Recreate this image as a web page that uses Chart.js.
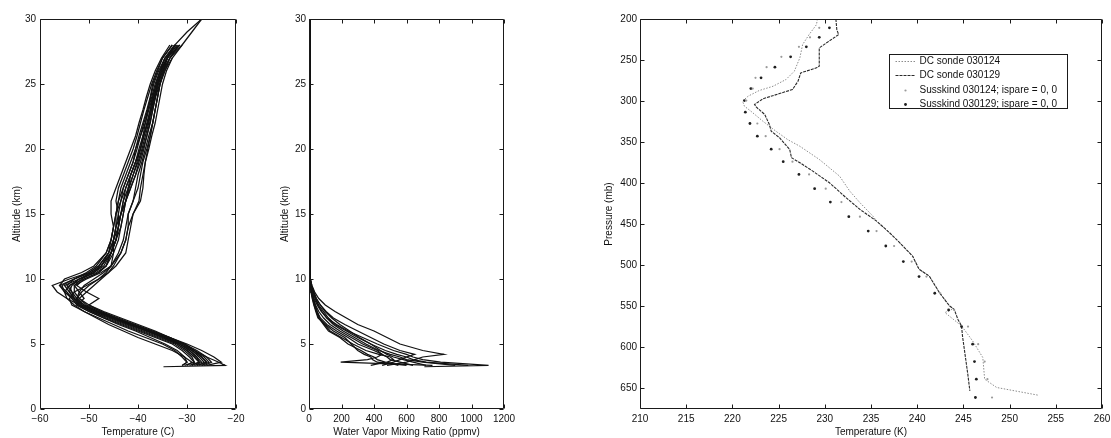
<!DOCTYPE html>
<html><head><meta charset="utf-8">
<script src="https://cdn.jsdelivr.net/npm/chart.js@4.4.1/dist/chart.umd.min.js"></script>
<style>
html,body{margin:0;padding:0;background:#fff;width:1111px;height:438px;overflow:hidden;}
canvas{position:absolute;top:0;}
</style></head><body>
<canvas id="c1" width="250" height="438" style="left:0px"></canvas>
<canvas id="c2" width="260" height="438" style="left:255px"></canvas>
<canvas id="c3" width="531" height="438" style="left:580px"></canvas>
<script>
// ---------- Panel 1: temperature profiles (C) vs altitude (km) ----------
const altLevels = [3.25,3.35,3.6,4.0,4.5,5.0,5.5,6.0,6.5,7.0,7.5,8.0,8.5,9.0,9.5,10.0,10.5,11,12,13,14,15,16,17,18,19,20,21,22,23,24,25,26,27,28,29,30];
const tempP01 = [null,-28,-27.5,-28.5,-30,-32,-35,-38.5,-42,-45.5,-49,-52,-54.5,-56.5,-57.5,-54,-50,-48,-46,-45,-44.5,-44.5,-44,-43.5,-42.5,-41.5,-40.5,-39.5,-38.8,-38,-37.2,-36.5,-35.5,-34.5,-32.5,null,null];
const tempP02 = [null,-26,-23,-24.5,-27,-30,-33.5,-37,-41,-44.5,-48.5,-51.5,-53,-55,-56,-53,-49.5,-47.5,-45.5,-44.5,-44,-43.5,-43,-42,-41.5,-40.5,-39.5,-39,-38,-37.5,-37,-36.2,-35.5,-34,-31.5,null,null];
const tempP03 = [null,-27,-26,-27,-29,-31.5,-35,-38,-41.5,-45,-48.5,-51.5,-53,-54,-55,-52,-48.5,-46.5,-45,-44,-43.5,-43,-42.5,-41.5,-40.5,-39.5,-38.8,-38.2,-37.5,-37,-36.5,-36,-35,-33.5,-31,-29,-27];
const tempP04 = [null,-29,-28.5,-29.5,-31,-33,-36.5,-40,-43.5,-47,-50,-52.5,-51,-52,-53,-50.5,-47.5,-45.5,-44,-43,-42.5,-42,-41,-40,-39.5,-39,-38.2,-37.5,-37,-36.5,-36,-35.5,-34.5,-33.5,-31.5,null,null];
const tempP05 = [null,-30,-29,-30.5,-33,-36.5,-40,-43,-46,-48.5,-51,-53,-54.5,-55,-54,-51,-48,-46.5,-45.5,-45,-44.5,-44,-43.5,-43,-42,-41,-40.5,-39.8,-39,-38.2,-37.5,-37,-36,-35,-33,null,null];
const tempP06 = [null,-28.5,-27,-28,-29.5,-31.5,-34.5,-38,-41.5,-45,-48.5,-51,-52.5,-51.5,-50,-48,-46,-44.5,-42.5,-42,-41.5,-41,-39.5,-39,-38.8,-38.5,-37.8,-37.2,-36.5,-36,-35.5,-35,-34.2,-33,-31,null,null];
const tempP07 = [null,-27.5,-26.5,-27.5,-29,-31,-34,-37.5,-41,-44.5,-47.5,-50,-48,-50.5,-52.5,-51,-48,-46.5,-45.5,-44.5,-44,-44,-44.5,-44,-43,-42,-41,-40.2,-39.5,-38.8,-38,-37.2,-36.2,-35,-33,null,null];
const tempP08 = [null,-31,-30,-30.5,-32,-34.5,-37.5,-40.5,-44,-47,-50,-52.5,-53.5,-54.5,-56,-55,-51.5,-49,-46.5,-45.5,-45,-45.5,-45.5,-44.5,-43.5,-42.5,-41.5,-40.5,-39.8,-39,-38.3,-37.5,-36.5,-35.2,-33.5,null,null];
const tempP09 = [null,-26.5,-25,-26,-28,-30.5,-33.5,-37,-40.5,-44,-47.5,-50.5,-52,-50.5,-49,-47.5,-46,-45,-43.5,-42.5,-42,-42,-41,-40.5,-40,-39.2,-38.5,-37.8,-37,-36.5,-36,-35.5,-34.8,-33.5,-31.8,null,null];
const tempP10 = [null,-27,-25.5,-26.5,-28.5,-31,-34.5,-38,-42,-45.5,-49,-52,-53.5,-55,-55.5,-53,-50,-48,-46,-45.5,-45,-44.5,-43.5,-42.5,-41.5,-40.5,-39.5,-38.8,-38,-37.2,-36.5,-35.8,-35,-34,-32.5,-30,-27];
const tempP11 = [null,-30.5,-28.5,-29,-30.5,-32.5,-36,-39.5,-43,-46.5,-49.5,-52,-53,-53.5,-54.5,-53,-50.5,-48.5,-46.5,-45.5,-45,-44.5,-44,-43,-42,-41,-40.2,-39.5,-38.5,-37.8,-37,-36.3,-35.5,-34.5,null,null,null];
const tempP12 = [null,-28,-26,-27,-28.5,-30.5,-33.5,-36.5,-40,-43.5,-47,-50,-52,-53,-53,-51.5,-49,-47.5,-46,-45,-44,-43.5,-42.5,-41.8,-41,-40.2,-39.5,-38.8,-38.2,-37.5,-36.8,-36,-35.2,-34,-32,null,null];
const tempP13 = [null,-29.5,-27.5,-28.5,-30,-32,-35.5,-39,-42.5,-46,-49.5,-52,-52.5,-52,-51,-49,-47,-45.5,-43.5,-42.5,-42,-41,-39.8,-39.5,-39,-38.5,-38,-37.5,-37,-36.5,-36,-35.5,-34.8,-34,-32.3,null,null];
const tempP14 = [-34.8,-22.2,-23.5,-26,-28.5,-30.5,-34,-37.5,-41,-44.5,-48,-51,-52.5,-53.5,-54,-52,-49,-47,-45.5,-44.5,-43.5,-43,-42.5,-42,-41,-40,-39.2,-38.5,-37.8,-37.3,-36.7,-36,-35.3,-34.2,-32.5,null,null];
const tempP15 = [null,-29,-27.5,-28,-29.5,-31.5,-34.5,-38,-41.5,-45,-48,-51,-53,-54,-53.5,-52,-49.5,-47.5,-45.5,-44.5,-44,-43.5,-43,-42.5,-41.5,-40.5,-39.8,-39,-38.5,-38,-37.4,-36.8,-35.8,-34.5,-32.5,null,null];
const tempP16 = [null,-31,-30,-31,-32.5,-35,-38.5,-42,-45,-48,-51,-53.5,-54,-53,-50.5,-48,-46.5,-45.5,-45,-45,-44.5,-43.5,-42.5,-41.5,-40.5,-39.8,-39,-38.2,-37.6,-37,-36.4,-35.6,-34.6,-33,null,null,null];
const tempProfiles = [tempP01,tempP02,tempP03,tempP04,tempP05,tempP06,tempP07,tempP08,tempP09,tempP10,tempP11,tempP12,tempP13,tempP14,tempP15,tempP16];
const tempTicksX = [-60,-50,-40,-30,-20];
const altTicks = [0,5,10,15,20,25,30];

// ---------- Panel 2: water vapour mixing ratio (ppmv) vs altitude (km) ----------
const wvLevels = [3.25,3.35,3.6,3.8,4.0,4.2,4.5,5.0,5.5,6.0,6.5,7.0,7.5,8.0,8.5,9.0,9.5,10.0,10.5,11,12,15,20,25,30];
const wvP01 = [710,1105,810,700,640,600,520,420,330,240,170,110,75,50,32,20,12,6,4,5,5,5,5,5,5];
const wvP02 = [null,480,600,650,700,830,700,560,480,400,300,230,160,100,60,35,18,8,5,5,5,5,5,5,5];
const wvP03 = [null,760,195,360,420,450,420,330,260,190,130,90,60,40,28,18,10,5,4,5,5,5,5,5,5];
const wvP04 = [null,380,470,420,400,360,320,240,190,120,90,60,45,32,22,14,8,4,3,5,5,5,5,5,5];
const wvP05 = [null,640,560,500,480,450,400,300,240,170,110,70,50,35,24,15,9,5,4,5,5,5,5,5,5];
const wvP06 = [null,900,700,600,560,500,430,350,280,210,150,110,80,55,38,25,14,7,4,5,5,5,5,5,5];
const wvP07 = [null,550,480,520,500,430,350,270,200,130,95,65,50,38,26,16,10,5,4,5,5,5,5,5,5];
const wvP08 = [null,720,640,580,520,480,440,380,300,230,160,120,90,60,40,26,14,7,4,5,5,5,5,5,5];
const wvP09 = [null,600,420,390,380,340,300,260,220,150,100,55,42,30,20,12,7,4,3,5,5,5,5,5,5];
const wvP10 = [null,980,720,640,600,540,470,380,310,250,190,140,100,70,45,28,15,8,5,5,5,5,5,5,5];
const wvP11 = [null,450,520,560,600,650,560,460,380,300,220,150,105,70,45,30,17,8,5,5,5,5,5,5,5];
const wvProfiles = [wvP01,wvP02,wvP03,wvP04,wvP05,wvP06,wvP07,wvP08,wvP09,wvP10,wvP11];
const wvTicksX = [0,200,400,600,800,1000,1200];

// ---------- Panel 3: temperature (K) vs pressure (mb) ----------
const sonde124T = [229.2,229.1,228.3,227.6,227.3,226.7,225.8,224.4,222.9,221.7,221.1,221.3,222.0,223.3,224.7,226.0,227.3,229.4,231.6,232.7,233.8,235.2,235.6,237.0,238.1,239.5,240.2,241.3,242.4,243.5,243.9,243.0,244.8,246.0,247.1,247.3,248.6,253.1];
const sonde124P = [200,206.8,219,231.1,247.3,263.6,273.7,281.9,287.1,294,300.1,306.2,312.3,324.5,336.6,347,355,371,391.4,409.6,423.7,440,446.1,460.2,472.4,488.7,504.8,513,533.2,549.5,553,557.5,573.8,592.1,612.3,638.7,648.8,658.2];
const sonde129T = [231.2,231.3,231.5,230.2,229.4,229.4,229.1,227.4,227.1,226.5,225.1,223.3,222.4,222.6,223.5,224.0,224.2,225.1,226.2,226.4,227.3,228.7,230.5,232.3,233.8,235.6,237.0,238.1,239.5,240.2,241.3,242.4,243.5,244.0,244.4,244.8,244.9,245.1,245.3,245.5,245.7];
const sonde129P = [200,212.9,219,229,235.2,257.5,259.5,265.6,275.8,285.9,290.8,297.2,304.1,307.4,316.3,328.5,336.6,344.6,358.9,369,375,385.3,399.4,417.6,431.9,446.1,460.2,472.4,488.7,504.8,513,533.2,549.5,553.5,565.7,573.8,586,602.2,618.4,634.7,652.9];
const susskindP = [210.8,222.3,233.9,246.1,258.7,271.7,284.7,299.3,313.5,327.3,342.7,358.5,373.8,389.3,406.7,423,440.8,458.3,476.5,495.5,513.7,534,554.4,574.6,596,617.2,638.7,661];
const susskind124T = [229.4,228.4,227.2,225.3,223.7,222.5,222.2,221.5,null,222.7,223.6,225.1,226.5,228.3,230.1,231.8,233.8,235.6,237.5,239.4,241.0,242.5,244.0,245.5,246.6,247.3,247.6,248.1];
const susskind129T = [230.5,229.4,228.0,226.3,224.6,223.1,222.0,221.3,221.4,221.9,222.7,224.2,225.5,227.2,228.9,230.6,232.6,234.7,236.6,238.5,240.2,241.9,243.4,244.8,246.0,246.2,246.4,246.3];
const tempKTicks = [210,215,220,225,230,235,240,245,250,255,260];
const pressureTicks = [200,250,300,350,400,450,500,550,600,650];

// ---------- helpers ----------
const FONT = '"Liberation Sans", Arial, Helvetica, sans-serif';
Chart.defaults.font.family = FONT;
Chart.defaults.font.size = 10;
Chart.defaults.color = '#111';

const pairs = (xs, ys) => xs.map((v, i) => ({x: v, y: ys[i]})).filter(p => p.x !== null && p.y !== null);
const fmt = v => v < 0 ? '\u2212' + Math.abs(v) : String(v);

const boxTicks = {
  id: 'boxTicks',
  afterDatasetsDraw(chart) {
    const ctx = chart.ctx, a = chart.chartArea, xs = chart.scales.x, ys = chart.scales.y;
    const L = Math.round(a.left) + 0.5, R = Math.round(a.right) - 0.5, T = Math.round(a.top) + 0.5, B = Math.round(a.bottom) - 0.5;
    const len = 4;
    ctx.save();
    ctx.strokeStyle = '#1a1a1a'; ctx.lineWidth = 1; ctx.setLineDash([]);
    ctx.beginPath();
    ctx.rect(L, T, R - L, B - T);
    xs.ticks.forEach(t => {
      const p = Math.round(xs.getPixelForValue(t.value)) + 0.5;
      ctx.moveTo(p, B); ctx.lineTo(p, B - len);
      ctx.moveTo(p, T); ctx.lineTo(p, T + len);
    });
    ys.ticks.forEach(t => {
      const p = Math.round(ys.getPixelForValue(t.value)) + 0.5;
      ctx.moveTo(L, p); ctx.lineTo(L + len, p);
      ctx.moveTo(R, p); ctx.lineTo(R - len, p);
    });
    ctx.stroke();
    ctx.restore();
  }
};

const boxLegend = {
  id: 'boxLegend',
  afterDraw(chart, args, o) {
    if (!o || !o.show) return;
    const ctx = chart.ctx, a = chart.chartArea;
    const x0 = Math.round(a.left + o.dx) + 0.5, y0 = Math.round(a.top + o.dy) + 0.5;
    ctx.save();
    ctx.fillStyle = '#fff'; ctx.fillRect(x0, y0, o.w, o.h);
    ctx.strokeStyle = '#1a1a1a'; ctx.lineWidth = 1; ctx.strokeRect(x0, y0, o.w, o.h);
    ctx.font = '10px ' + FONT; ctx.textBaseline = 'middle'; ctx.textAlign = 'left';
    chart.data.datasets.forEach((ds, i) => {
      const yy = Math.round(y0 + o.row0 + i * o.rowH) + 0.5;
      if (ds.showLine) {
        ctx.strokeStyle = ds.borderColor; ctx.lineWidth = ds.borderWidth;
        ctx.setLineDash(ds.borderDash || []);
        ctx.beginPath(); ctx.moveTo(x0 + 6, yy); ctx.lineTo(x0 + 26, yy); ctx.stroke();
        ctx.setLineDash([]);
      } else {
        ctx.fillStyle = ds.pointBackgroundColor;
        ctx.beginPath(); ctx.arc(x0 + 16, yy, ds.pointRadius, 0, Math.PI * 2); ctx.fill();
      }
      ctx.fillStyle = '#111';
      ctx.fillText(ds.label, x0 + 30, yy);
    });
    ctx.restore();
  }
};

function makePanel(id, c) {
  const canvas = document.getElementById(id);
  return new Chart(canvas, {
    type: 'scatter',
    data: {datasets: c.datasets},
    plugins: [boxTicks, boxLegend],
    options: {
      responsive: false, animation: false, events: [],
      layout: {padding: {top: 19, right: canvas.width - c.chartRight, left: 0, bottom: 0}},
      plugins: {legend: {display: false}, tooltip: {enabled: false}, boxLegend: c.legend || {show: false}},
      scales: {
        x: {
          type: 'linear', position: 'bottom', min: c.xMin, max: c.xMax,
          afterBuildTicks: s => { s.ticks = c.xTicks.map(v => ({value: v})); },
          afterFit: s => { s.height = 438 - 409; s.paddingLeft = 0; s.paddingRight = 0; },
          grid: {display: false, drawTicks: false}, border: {display: false},
          ticks: {padding: 4, maxRotation: 0, autoSkip: false, color: '#111', font: {size: 10}, callback: v => fmt(v)},
          title: {display: true, text: c.xTitle, color: '#111', font: {size: 10}, padding: {top: 0, bottom: 0}}
        },
        y: {
          type: 'linear', position: 'left', min: c.yMin, max: c.yMax, reverse: !!c.yReverse,
          afterBuildTicks: s => { s.ticks = c.yTicks.map(v => ({value: v})); },
          afterFit: s => { s.width = c.chartLeft; s.paddingTop = 0; s.paddingBottom = 0; },
          grid: {display: false, drawTicks: false}, border: {display: false},
          ticks: {padding: c.yTickPad, autoSkip: false, color: '#111', font: {size: 10}, callback: v => fmt(v)},
          title: {display: true, text: c.yTitle, color: '#111', font: {size: 10}, padding: {top: c.yTitlePad, bottom: 0}}
        }
      }
    }
  });
}

const lineStyle = {showLine: true, pointRadius: 0, borderColor: '#111', borderWidth: 1.25, fill: false};

makePanel('c1', {
  chartLeft: 40, chartRight: 236, yTitlePad: 11, yTickPad: 4,
  xMin: -60, xMax: -20, xTicks: tempTicksX, yMin: 0, yMax: 30, yTicks: altTicks,
  xTitle: 'Temperature (C)', yTitle: 'Altitude (km)',
  datasets: tempProfiles.map((p, i) => Object.assign({label: 'T' + (i + 1), data: pairs(p, altLevels)}, lineStyle))
});

makePanel('c2', {
  chartLeft: 54, chartRight: 249, yTitlePad: 24, yTickPad: 3,
  xMin: 0, xMax: 1200, xTicks: wvTicksX, yMin: 0, yMax: 30, yTicks: altTicks,
  xTitle: 'Water Vapor Mixing Ratio (ppmv)', yTitle: 'Altitude (km)',
  datasets: wvProfiles.map((p, i) => Object.assign({label: 'W' + (i + 1), data: pairs(p, wvLevels)}, lineStyle))
});

makePanel('c3', {
  chartLeft: 60, chartRight: 522, yTitlePad: 23, yTickPad: 3,
  xMin: 210, xMax: 260, xTicks: tempKTicks, yMin: 200, yMax: 675, yTicks: pressureTicks, yReverse: true,
  xTitle: 'Temperature (K)', yTitle: 'Pressure (mb)',
  legend: {show: true, dx: 249, dy: 35, w: 178, h: 54, row0: 6.5, rowH: 14.3},
  datasets: [
    {label: 'DC sonde 030124', data: pairs(sonde124T, sonde124P), showLine: true, pointRadius: 0,
     borderColor: '#8c8c8c', borderWidth: 1, borderDash: [1.5, 1.5], order: 2},
    {label: 'DC sonde 030129', data: pairs(sonde129T, sonde129P), showLine: true, pointRadius: 0,
     borderColor: '#2a2a2a', borderWidth: 1.1, borderDash: [3, 1], order: 1},
    {label: 'Susskind 030124; ispare = 0, 0', data: pairs(susskind124T, susskindP), showLine: false,
     pointRadius: 1.1, pointBackgroundColor: '#9a9a9a', pointBorderWidth: 0, order: 0},
    {label: 'Susskind 030129; ispare = 0, 0', data: pairs(susskind129T, susskindP), showLine: false,
     pointRadius: 1.4, pointBackgroundColor: '#1e1e1e', pointBorderWidth: 0, order: 0}
  ]
});
</script>
</body></html>
